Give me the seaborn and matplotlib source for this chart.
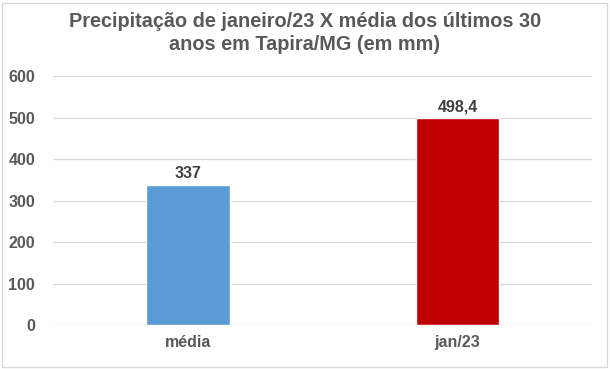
import matplotlib
matplotlib.use("Agg")
import matplotlib.pyplot as plt
import seaborn as sns
import pandas as pd
from matplotlib.patches import Rectangle

categories = ["média", "jan/23"]
values = [337, 498.4]
value_labels = ["337", "498,4"]
colors = ["#5B9BD5", "#C00000"]
y_ticks = [0, 100, 200, 300, 400, 500, 600]

sns.set_style("white")
plt.rcParams["font.family"] = ["Liberation Sans", "DejaVu Sans"]

df = pd.DataFrame({"cat": categories, "val": values})

fig = plt.figure(figsize=(6.1, 3.69), dpi=100)
ax = fig.add_axes([0.087, 0.119, 0.884, 0.675])

sns.barplot(data=df, x="cat", y="val", hue="cat", palette=colors,
            width=0.31, legend=False, ax=ax, zorder=3, saturation=1)

ax.set_ylim(0, 600)
ax.set_yticks(y_ticks)
ax.yaxis.grid(True, color="#D9D9D9", linewidth=0.9, zorder=0)
for s in ax.spines.values():
    s.set_visible(False)
ax.tick_params(axis="both", length=0, colors="#595959", labelsize=11.5, pad=7)
ax.tick_params(axis="y", pad=13)
for lbl in ax.get_xticklabels() + ax.get_yticklabels():
    lbl.set_fontweight("bold")
ax.set_xlabel("")
ax.set_ylabel("")

for i, (v, t) in enumerate(zip(values, value_labels)):
    ax.text(i, v + 9, t, ha="center", va="bottom", fontsize=11.5,
            fontweight="bold", color="#404040")

fig.suptitle("Precipitação de janeiro/23 X média dos últimos 30\nanos em Tapira/MG (em mm)",
             x=0.5, y=0.968, fontsize=14.3, fontweight="bold", color="#595959",
             linespacing=1.3)

fig.patches.append(Rectangle((0.004, 0.006), 0.991, 0.986, transform=fig.transFigure,
                             fill=False, edgecolor="#D9D9D9", linewidth=1))

fig.savefig("out.png", dpi=100)
